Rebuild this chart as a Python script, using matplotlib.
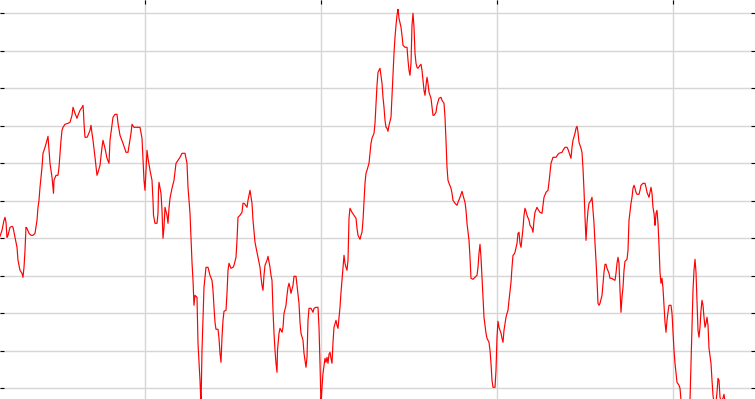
import matplotlib
matplotlib.use("Agg")
import matplotlib.pyplot as plt
import numpy as np

# series (t = sample position, v = value)
t1 = [0, 2, 4, 5, 6, 7, 8, 10, 12, 13, 15, 17, 18, 20, 22, 23, 24, 25, 26, 27,
      29, 31, 33, 35, 37, 38, 39, 40, 42, 43, 45, 47, 48, 49, 50, 52, 53, 53.5, 54, 56,
      58, 59, 60, 61, 62, 63, 65, 68, 70, 72, 73, 74, 75, 77, 78, 80, 82, 83, 83.5, 84,
      85, 87, 88, 90, 91, 92, 93, 95]
v1 = [152, 158, 168, 171, 166, 151, 153, 161, 162, 161, 151, 141, 128, 118, 115, 111, 121, 138, 161, 160,
      155, 153, 153, 155, 168, 181, 188, 201, 221, 235, 241, 248, 252, 238, 225, 211, 200, 195, 208, 213,
      213, 221, 235, 248, 258, 261, 264, 265, 266, 273, 281, 278, 275, 270, 273, 278, 281, 283, 276, 265,
      251, 251, 253, 258, 263, 255, 248, 231]

t2 = [97, 98, 100, 102, 103, 105, 107, 109, 110, 112, 113, 115, 117, 118, 120, 123, 126, 128, 131, 132,
      134, 137, 140, 142, 143, 144, 145, 146, 147, 148, 150, 152, 153, 153.5, 155, 157, 158, 158.5, 159, 161,
      162, 163, 164, 165, 167, 168, 169, 170, 172, 174, 176, 178, 180, 182, 185, 187, 188, 190]
v2 = [213, 216, 223, 241, 248, 240, 230, 225, 248, 263, 271, 274, 274, 265, 253, 245, 236, 236, 255, 264,
      261, 261, 261, 250, 228, 208, 198, 218, 238, 230, 218, 208, 188, 173, 165, 165, 175, 198, 206, 195,
      178, 150, 161, 181, 173, 165, 180, 190, 200, 208, 225, 228, 231, 235, 235, 225, 201, 175]

t3 = [191, 192, 193, 194, 195, 197, 198, 200, 201, 202, 203, 204, 206, 208, 210, 212, 213, 214, 215, 216,
      218, 219, 220, 221, 222, 223, 224, 226, 227, 228, 229, 231, 233, 234, 236, 237, 238, 240, 242, 243,
      244, 245, 247, 248, 249, 250, 252, 253, 255, 257, 258, 260, 261, 262, 263, 264, 265, 267, 268, 270,
      271, 272, 273, 274, 275, 276, 277, 277.5, 279, 280, 282, 283, 284, 286, 287, 288, 289, 290, 291, 293,
      294, 296, 297, 299, 300, 301, 303, 304, 305, 306, 307, 307.5, 308, 309, 311, 313, 314, 316, 318, 319,
      320, 321, 322, 323, 325, 326, 327, 328, 329]
v3 = [151, 126, 108, 83, 93, 91, 45, 8, -17, 38, 68, 101, 121, 121, 113, 108, 98, 81, 66, 59,
      59, 50, 35, 26, 51, 68, 77, 78, 95, 118, 125, 120, 121, 123, 131, 148, 171, 173, 176, 185,
      185, 184, 181, 188, 193, 198, 185, 168, 146, 136, 131, 121, 111, 103, 98, 113, 123, 128, 132, 121,
      113, 108, 78, 55, 38, 25, 16, 38, 55, 60, 56, 61, 75, 83, 93, 101, 105, 101, 95, 103,
      112, 112, 103, 85, 66, 55, 48, 35, 28, 21, 31, 48, 68, 80, 80, 76, 80, 81, 81, 61,
      25, -17, 1, 15, 30, 26, 31, 25, 34]

t4 = [330, 331, 332, 333, 334, 336, 337, 338, 339, 340, 341, 342, 343, 344, 345, 346, 347, 348, 348.5, 349,
      350, 352, 354, 356, 357, 358, 360, 361, 362, 363, 364, 365, 366, 367, 369, 370, 371, 372, 374, 375,
      376, 377, 378, 379, 380, 382, 383, 384, 385, 386, 387, 388, 389, 391, 392, 393, 394, 395, 396, 397,
      398, 398.5, 399, 401, 402, 403, 405, 407, 408, 409, 410, 411, 411.5, 412, 413, 414, 415, 416, 417, 418,
      420, 421, 422, 423, 424, 425, 426, 427, 428, 429, 431, 432, 433, 434, 436, 437, 439, 441, 442, 444,
      445, 446, 447, 448, 449, 451, 452, 453, 455, 457, 458, 460, 462, 463, 465, 466, 467, 469, 470, 471,
      473, 475, 477, 478, 479, 480, 481, 482, 483, 484, 486, 487, 489, 490, 491, 492, 493, 495, 496, 497,
      498, 499, 501, 502, 503]
v4 = [36, 30, 25, 46, 61, 68, 63, 60, 71, 81, 96, 108, 120, 133, 125, 121, 118, 128, 148, 170,
      180, 176, 173, 170, 160, 153, 149, 153, 156, 168, 186, 205, 215, 218, 225, 235, 245, 250, 255, 265,
      285, 303, 316, 318, 320, 305, 291, 281, 268, 261, 260, 257, 263, 271, 293, 315, 335, 351, 363, 373,
      379, 375, 370, 361, 353, 343, 341, 341, 328, 318, 313, 325, 345, 363, 375, 361, 335, 325, 321, 320,
      323, 324, 318, 308, 298, 293, 303, 311, 305, 296, 290, 281, 273, 273, 276, 283, 290, 291, 288, 285,
      271, 248, 221, 208, 205, 200, 195, 188, 185, 183, 186, 191, 197, 193, 186, 178, 165, 148, 131, 110,
      109, 111, 113, 121, 135, 144, 131, 111, 91, 71, 55, 50, 46, 38, 25, 8, 1, 1, 18, 51,
      67, 61, 55, 50, 46]

t5 = [504, 506, 507, 508, 509, 511, 512, 513, 514, 515, 517, 518, 519, 519.5, 520, 521, 522, 523, 524, 525,
      526, 527, 529, 530, 532, 533, 534, 535, 537, 538, 540, 542, 543, 544, 546, 548, 549, 550, 551, 552,
      553, 556, 558, 559, 562, 563, 565, 567, 568, 570, 571, 572, 573, 575, 576, 577, 578, 579, 581, 582,
      583, 584, 585, 586, 587, 588, 589, 591, 592, 593, 594, 595, 596, 597, 598, 599, 600]
v5 = [58, 71, 75, 78, 88, 106, 121, 133, 134, 136, 145, 155, 156, 150, 145, 141, 151, 160, 173, 180,
      177, 173, 168, 163, 160, 156, 168, 176, 181, 179, 176, 175, 183, 191, 196, 198, 206, 216, 225, 228,
      231, 231, 234, 235, 236, 238, 241, 241, 239, 233, 230, 241, 248, 255, 260, 262, 256, 246, 240, 236,
      220, 198, 171, 148, 165, 178, 185, 188, 191, 178, 165, 145, 128, 108, 85, 83, 85]

t6 = [602, 603, 604, 605, 606, 607, 609, 610, 612, 613, 615, 616, 617, 618, 619, 620, 621, 622, 623, 624,
      625, 627, 628, 629, 631, 632, 633, 634, 635, 636, 637, 639, 640, 641, 643, 645, 646, 647, 649, 650,
      651, 652, 653, 654, 655, 655.5, 656, 657, 658, 659, 660, 661, 662, 663, 664, 665, 666, 667, 668, 669,
      671, 672, 673, 674, 675, 676, 677, 679, 680, 681, 683, 686, 689, 690, 691, 692, 693, 694, 695, 696,
      697, 698, 699, 700, 701, 702, 703, 704, 705, 706, 707, 708, 709, 711, 712, 713, 714, 716, 717, 718,
      719, 719.5, 720, 721, 723, 724, 725, 728, 733, 738, 743, 748, 755]
v6 = [93, 105, 116, 124, 124, 120, 115, 110, 110, 109, 108, 115, 125, 131, 125, 98, 76, 91, 101, 118,
      127, 129, 138, 168, 185, 191, 200, 203, 200, 196, 194, 194, 198, 203, 205, 205, 201, 196, 191, 196,
      201, 195, 181, 175, 163, 168, 175, 178, 165, 143, 116, 105, 110, 100, 83, 66, 56, 68, 76, 83,
      83, 75, 56, 38, 25, 15, 6, 3, 0, -12, -22, -27, -20, -12, 25, 60, 98, 118, 129, 116,
      88, 58, 51, 61, 78, 88, 83, 71, 61, 65, 71, 63, 40, 25, 8, -7, -14, -14, -4, 10,
      8, 0, -9, -13, -10, -6, -13, -20, -24, -18, -22, -27, -24]

t = t1 + t2 + t3 + t4 + t5 + t6
v = v1 + v2 + v3 + v4 + v5 + v6

x_grid = [145, 321, 497, 673]
y_grid = np.arange(0, 376, 37.5)

fig = plt.figure(figsize=(7.55, 3.99), dpi=100)
ax = fig.add_axes([0, 0, 1, 1])
ax.plot(t, v, color="red", linewidth=0.85)

ax.set_xlim(0, 755)
ax.set_ylim(-10.7, 388.3)
ax.set_xticks(x_grid)
ax.set_yticks(y_grid)
ax.grid(True, color="#d6d6d6", linewidth=1.0)
ax.set_axisbelow(True)
for s in ax.spines.values():
    s.set_visible(False)
ax.tick_params(direction="in", length=3, width=0.8, color="black",
               left=True, right=True, top=True, bottom=False,
               labelleft=False, labelbottom=False)

fig.savefig("out.png", dpi=100)
